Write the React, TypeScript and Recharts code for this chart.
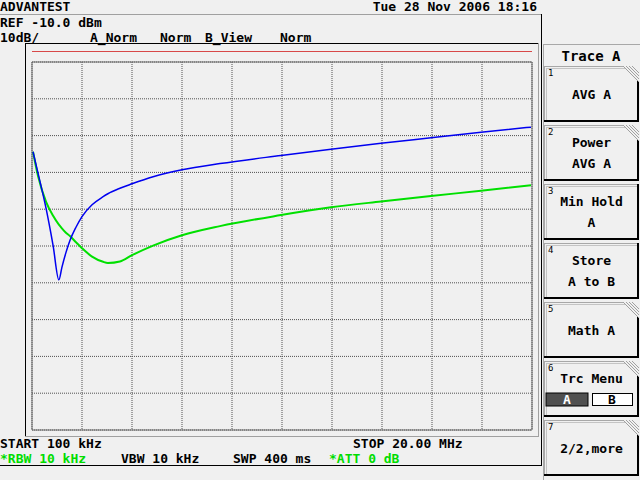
import { LineChart, Line, XAxis, YAxis, CartesianGrid, ReferenceArea } from "recharts";

// sweep points, MHz (start 100 kHz, stop 20 MHz)
const freqMHz = [
  0.14, 0.34, 0.66, 0.94, 1.17, 1.29, 1.45, 1.61, 1.85, 2.09, 2.49, 2.93,
  3.12, 3.6, 4.08, 4.92, 6.07, 7.58, 10.01, 12.0, 13.99, 15.98, 17.97, 19.96,
];
// trace A (blue), dBm
const traceA = [
  -34.4, -40.2, -49.8, -59.9, -69.2, -65.8, -61.8, -58.5, -54.9, -52.0, -48.8, -46.6,
  -45.8, -44.3, -43.1, -41.2, -39.3, -37.6, -35.4, -33.7, -32.1, -30.6, -29.1, -27.7,
];
// trace B (green), dBm
const traceB = [
  -34.4, -41.0, -48.0, -51.8, -54.2, -55.2, -56.4, -57.3, -59.0, -60.6, -62.9, -64.3,
  -64.6, -64.2, -62.5, -59.9, -57.1, -54.6, -51.6, -49.5, -47.9, -46.4, -45.0, -43.5,
];
const freqTicks = [0.1, 2.09, 4.08, 6.07, 8.06, 10.05, 12.04, 14.03, 16.02, 18.01, 20];
const levelTicks = [-110, -100, -90, -80, -70, -60, -50, -40, -30, -20, -10];

const softkeyLines = [
  ["AVG A"],
  ["Power", "AVG A"],
  ["Min Hold", "A"],
  ["Store", "A to B"],
  ["Math A"],
  ["Trc Menu"],
  ["2/2,more"],
];
const softkeyHatched = [true, true, false, false, true, true, true];

const FONT = "'DejaVu Sans Mono', monospace";
const GREEN = "#00dd00";

function Softkey({ i }: { i: number }) {
  const top = 66 + i * 59;
  const left = 544;
  const right = 639;
  const h = 56;
  const lines = softkeyLines[i];
  const cx = (left + right) / 2;
  return (
    <g>
      <rect x={left} y={top} width={right - left} height={h} fill="#f0f0f0" />
      <line x1={left} y1={top + 0.5} x2={right} y2={top + 0.5} stroke="#a8a8a8" />
      <line x1={left + 2} y1={top + 2.5} x2={right - 2} y2={top + 2.5} stroke="#c4c4c4" />
      <line x1={left + 0.5} y1={top} x2={left + 0.5} y2={top + h} stroke="#a8a8a8" />
      <line x1={left + 2.5} y1={top + 2} x2={left + 2.5} y2={top + h - 2} stroke="#c4c4c4" />
      <line x1={left} y1={top + h - 1} x2={right} y2={top + h - 1} stroke="#000" strokeWidth={2} />
      <line x1={right - 1} y1={top} x2={right - 1} y2={top + h} stroke="#000" strokeWidth={2} />
      {softkeyHatched[i] && (
        <g>
          <polygon points={`${right - 16},${top} ${right},${top} ${right},${top + 16}`} fill="#f0f0f0" />
          {[0, 3, 6, 9].map((k) => (
            <line key={k} x1={right - 16 + k} y1={top} x2={right} y2={top + 16 - k} stroke="#a0a0a0" />
          ))}
        </g>
      )}
      <text x={left + 4} y={top + 10} fontSize={9} fontFamily={FONT}>{i + 1}</text>
      {lines.length === 1 && i !== 5 && (
        <text x={cx} y={top + 33} fontSize={13} fontFamily={FONT} fontWeight="bold" textAnchor="middle">
          {lines[0]}
        </text>
      )}
      {lines.length === 2 &&
        lines.map((t, k) => (
          <text key={k} x={cx} y={top + 22 + k * 21} fontSize={13} fontFamily={FONT} fontWeight="bold" textAnchor="middle">
            {t}
          </text>
        ))}
      {i === 5 && (
        <g>
          <text x={cx} y={top + 22} fontSize={13} fontFamily={FONT} fontWeight="bold" textAnchor="middle">
            {lines[0]}
          </text>
          <rect x={546} y={top + 32} width={42} height={13} fill="#505050" stroke="#000" />
          <text x={567} y={top + 43} fontSize={13} fontFamily={FONT} fontWeight="bold" fill="#fff" textAnchor="middle">A</text>
          <rect x={592.5} y={top + 32.5} width={40} height={12} fill="#fff" stroke="#000" />
          <text x={612} y={top + 43} fontSize={13} fontFamily={FONT} fontWeight="bold" textAnchor="middle">B</text>
        </g>
      )}
    </g>
  );
}

function Screen() {
  const t = { fontSize: 13, fontFamily: FONT, fontWeight: "bold" as const };
  return (
    <svg width={640} height={480} style={{ position: "absolute", left: 0, top: 0 }}>
      <rect x={0} y={0} width={640} height={480} fill="#f0f0f0" />
      <text x={0} y={11} {...t}>ADVANTEST</text>
      <text x={537} y={11} {...t} textAnchor="end">Tue 28 Nov 2006 18:16</text>
      <line x1={0} y1={14.5} x2={541} y2={14.5} stroke="#a0a0a0" />
      <line x1={541.5} y1={14} x2={541.5} y2={466} stroke="#000" />
      <line x1={0} y1={465.5} x2={541} y2={465.5} stroke="#000" />
      <text x={0} y={27} {...t}>REF -10.0 dBm</text>
      <text x={0} y={42} {...t}>10dB/</text>
      <text x={90} y={42} {...t}>A_Norm</text>
      <text x={160} y={42} {...t}>Norm</text>
      <text x={205} y={42} {...t}>B_View</text>
      <text x={280} y={42} {...t}>Norm</text>

      <line x1={25} y1={43.5} x2={538} y2={43.5} stroke="#000" />
      <line x1={25.5} y1={43} x2={25.5} y2={437} stroke="#000" />
      <line x1={538.5} y1={43} x2={538.5} y2={437} stroke="#a0a0a0" />
      <line x1={25} y1={436.5} x2={539} y2={436.5} stroke="#a0a0a0" />
      <line x1={32} y1={51.5} x2={532} y2={51.5} stroke="#d84848" />

      <text x={0} y={448} {...t}>START 100 kHz</text>
      <text x={353} y={448} {...t}>STOP 20.00 MHz</text>
      <text x={0} y={463} {...t} fill={GREEN}>*RBW 10 kHz</text>
      <text x={121} y={463} {...t}>VBW 10 kHz</text>
      <text x={233} y={463} {...t}>SWP 400 ms</text>
      <text x={329} y={463} {...t} fill={GREEN}>*ATT 0 dB</text>

      <rect x={543.5} y={44.5} width={98} height={440} fill="none" stroke="#a8a8a8" />
      <text x={591} y={61} {...t} fontSize={14} textAnchor="middle">Trace A</text>
      {softkeyLines.map((_, i) => (
        <Softkey key={i} i={i} />
      ))}
    </svg>
  );
}

export default function App() {
  const data = freqMHz.map((f, i) => ({ f, a: traceA[i], b: traceB[i] }));
  return (
    <div style={{ position: "absolute", left: 0, top: 0, width: 640, height: 480, overflow: "hidden", background: "#f0f0f0" }}>
      <Screen />
      <div style={{ position: "absolute", left: 27, top: 57 }}>
        <LineChart width={510} height={378} data={data} margin={{ top: 5, right: 5, bottom: 5, left: 5 }}>
          <XAxis dataKey="f" type="number" domain={[0.1, 20]} ticks={freqTicks} hide />
          <YAxis type="number" domain={[-110, -10]} ticks={levelTicks} hide />
          <CartesianGrid stroke="#505050" strokeDasharray="1 1" />
          <ReferenceArea x1={0.1} x2={20} y1={-110} y2={-10} fill="none" stroke="#6a6a6a" strokeWidth={1} ifOverflow="visible" />
          <Line dataKey="b" type="monotone" stroke="#00e000" strokeWidth={2} dot={false} isAnimationActive={false} />
          <Line dataKey="a" type="monotone" stroke="#0000f0" strokeWidth={1.5} dot={false} isAnimationActive={false} />
        </LineChart>
      </div>
    </div>
  );
}
